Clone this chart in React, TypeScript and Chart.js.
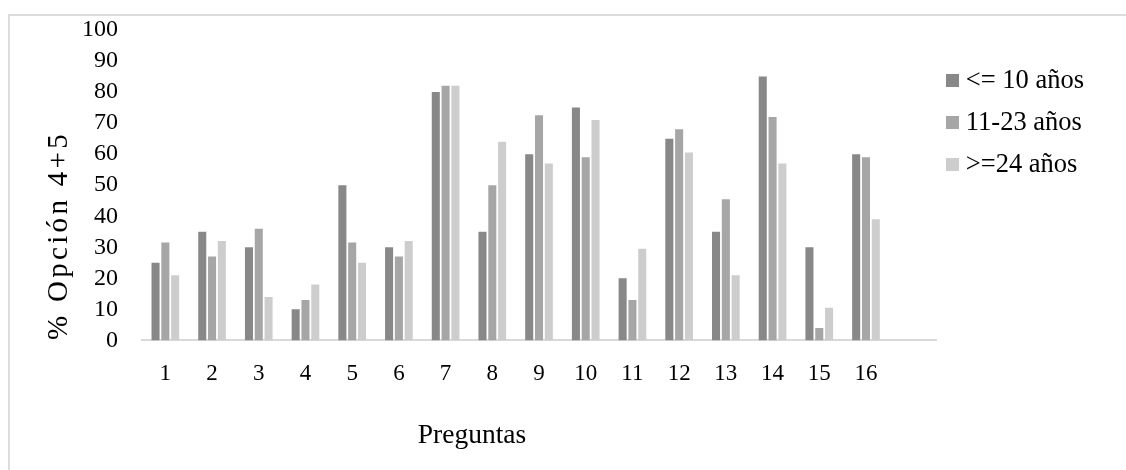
import React, { useEffect, useRef } from "react";
import { Chart, registerables } from "chart.js";

Chart.register(...registerables);

const categories = ["1", "2", "3", "4", "5", "6", "7", "8", "9", "10", "11", "12", "13", "14", "15", "16", ""];
const seriesNames = ["<= 10 años", "11-23 años", ">=24 años"];
const serie10 = [25, 35, 30, 10, 50, 30, 80, 35, 60, 75, 20, 65, 35, 85, 30, 60, null];
const serie1123 = [31.5, 27, 36, 13, 31.5, 27, 82, 50, 72.5, 59, 13, 68, 45.5, 72, 4, 59, null];
const serie24 = [21, 32, 14, 18, 25, 32, 82, 64, 57, 71, 29.5, 60.5, 21, 57, 10.5, 39, null];
const colors = ["#888888", "#a6a6a6", "#cdcdcd"];
const yTicks = [0, 10, 20, 30, 40, 50, 60, 70, 80, 90, 100];
const yTitle = "% Opción 4+5";
const xTitle = "Preguntas";

const FONT = "'Liberation Serif', 'Times New Roman', serif";

export default function App() {
  const ref = useRef<HTMLCanvasElement | null>(null);

  useEffect(() => {
    if (!ref.current) return;
    const swatches = colors.map((c) => {
      const cv = document.createElement("canvas");
      cv.width = 13;
      cv.height = 13;
      const cx = cv.getContext("2d")!;
      cx.fillStyle = c;
      cx.fillRect(0, 0, 13, 13);
      return cv;
    });

    const titlesPlugin = {
      id: "axisTitles",
      afterDraw(chart: any) {
        const ctx = chart.ctx;
        const area = chart.chartArea;
        ctx.save();
        ctx.fillStyle = "#000";
        ctx.font = `27.5px ${FONT}`;
        ctx.textAlign = "center";
        ctx.textBaseline = "middle";
        ctx.fillText(xTitle, (8 + area.right) / 2, 436);
        ctx.font = `29px ${FONT}`;
        try {
          (ctx as any).letterSpacing = "3.3px";
        } catch (e) {}
        ctx.translate(59, 237);
        ctx.rotate(-Math.PI / 2);
        ctx.fillText(yTitle, 1.5, 0);
        ctx.restore();
      },
    };

    const datasets = [serie10, serie1123, serie24].map((d, i) => ({
      label: seriesNames[i],
      data: d,
      backgroundColor: colors[i],
      borderWidth: 0,
      barPercentage: 0.82,
      categoryPercentage: 0.63,
    }));

    const chart = new Chart(ref.current, {
      type: "bar",
      data: { labels: categories, datasets },
      plugins: [titlesPlugin],
      options: {
        animation: false,
        responsive: false,
        layout: { padding: { left: 58, right: 32, top: 30, bottom: 62 } },
        scales: {
          x: {
            grid: { display: false, drawTicks: false },
            border: { display: true, color: "#d9d9d9", width: 2 },
            ticks: { color: "#000", font: { family: FONT, size: 23 }, padding: 20, maxRotation: 0 },
          },
          y: {
            min: 0,
            max: 100,
            afterBuildTicks: (axis: any) => {
              axis.ticks = yTicks.map((v) => ({ value: v }));
            },
            afterFit: (axis: any) => {
              axis.paddingTop = 0;
              axis.paddingBottom = 0;
            },
            grid: { display: false, drawTicks: false },
            border: { display: false },
            ticks: { color: "#000", font: { family: FONT, size: 24 }, padding: 24, autoSkip: false },
          },
        },
        plugins: {
          tooltip: { enabled: false },
          legend: {
            position: "right",
            align: "start",
            title: { display: true, text: " ", padding: 0, font: { size: 18.2, family: FONT } },
            labels: {
              color: "#000",
              font: { family: FONT, size: 26.5 },
              padding: 15.5,
              usePointStyle: true,
              pointStyleWidth: 1,
              generateLabels: (ch: any) => {
                const items = Chart.defaults.plugins.legend.labels.generateLabels(ch);
                return items.map((it: any, i: number) => ({ ...it, pointStyle: swatches[i] }));
              },
            },
          },
        },
      },
    });
    return () => chart.destroy();
  }, []);

  return (
    <div style={{ position: "absolute", left: 0, top: 0, width: 1126, height: 470, background: "#fff" }}>
      <div
        style={{
          position: "absolute",
          left: 8,
          top: 14,
          right: 0,
          bottom: 0,
          borderTop: "2px solid #dcdcdc",
          borderLeft: "2px solid #dcdcdc",
        }}
      />
      <canvas ref={ref} width={1126} height={470} style={{ position: "absolute", left: 0, top: 0 }} />
    </div>
  );
}
